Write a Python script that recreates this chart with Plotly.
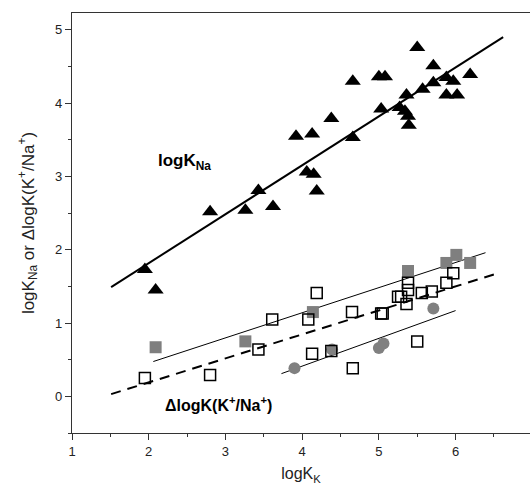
import plotly.graph_objects as go

# logK_Na (black triangles)
tri_x = [5.50, 5.71, 6.19, 5.00, 5.08, 4.66, 5.88, 5.97, 5.71, 5.57, 5.36, 5.88, 6.02,
         5.03, 5.27, 5.34, 5.38, 5.39, 4.38, 3.92, 4.13, 4.66, 4.06, 4.15, 4.19, 3.43,
         3.62, 3.26, 2.80, 1.95, 2.09]
tri_y = [4.76, 4.51, 4.39, 4.36, 4.36, 4.30, 4.35, 4.30, 4.28, 4.19, 4.11, 4.11, 4.11,
         3.92, 3.94, 3.89, 3.82, 3.70, 3.79, 3.55, 3.58, 3.53, 3.06, 3.03, 2.80, 2.81,
         2.59, 2.54, 2.52, 1.73, 1.45]

# Delta logK (open squares)
osq_x = [1.95, 2.80, 3.43, 3.61, 4.08, 4.13, 4.38, 4.66, 4.65, 5.03, 5.05, 5.50, 4.19,
         5.38, 5.38, 5.29, 5.36, 5.25, 5.56, 5.69, 5.88, 5.97]
osq_y = [0.25, 0.29, 0.64, 1.05, 1.05, 0.58, 0.62, 0.385, 1.15, 1.13, 1.13, 0.75, 1.41,
         1.55, 1.45, 1.36, 1.26, 1.36, 1.41, 1.43, 1.55, 1.68]

# gray filled squares
gsq_x = [2.09, 3.26, 4.14, 5.38, 5.88, 6.01, 6.19]
gsq_y = [0.67, 0.75, 1.15, 1.71, 1.82, 1.93, 1.82]

# gray circles
gci_x = [3.90, 4.39, 5.00, 5.06, 5.71]
gci_y = [0.385, 0.64, 0.66, 0.72, 1.20]

# fitted lines (end points)
fit_na_x = [1.51, 6.62]
fit_na_y = [1.49, 4.90]
fit_all_x = [1.51, 6.55]
fit_all_y = [0.03, 1.68]
fit_sq_x = [2.06, 6.39]
fit_sq_y = [0.475, 1.96]
fit_ci_x = [3.73, 6.00]
fit_ci_y = [0.31, 1.17]

fig = go.Figure()

fig.add_trace(go.Scatter(x=fit_na_x, y=fit_na_y, mode="lines",
                         line=dict(color="black", width=2)))
fig.add_trace(go.Scatter(x=fit_all_x, y=fit_all_y, mode="lines",
                         line=dict(color="black", width=2, dash="10px,7px")))
fig.add_trace(go.Scatter(x=fit_sq_x, y=fit_sq_y, mode="lines",
                         line=dict(color="black", width=1)))
fig.add_trace(go.Scatter(x=fit_ci_x, y=fit_ci_y, mode="lines",
                         line=dict(color="black", width=1)))

fig.add_trace(go.Scatter(x=gsq_x, y=gsq_y, mode="markers",
                         marker=dict(symbol="square", size=12, color="#7f7f7f",
                                     line=dict(width=0))))
fig.add_trace(go.Scatter(x=gci_x, y=gci_y, mode="markers",
                         marker=dict(symbol="circle", size=12, color="#808080",
                                     line=dict(width=0))))
fig.add_trace(go.Scatter(x=osq_x, y=osq_y, mode="markers",
                         marker=dict(symbol="square-open", size=11, color="black",
                                     line=dict(width=1.5, color="black"))))
fig.add_trace(go.Scatter(x=tri_x, y=tri_y, mode="markers",
                         marker=dict(symbol="triangle-up", size=14, color="black",
                                     line=dict(width=0))))

fig.add_annotation(x=2.10, y=3.20, xref="x", yref="y", xanchor="left", yanchor="middle",
                   text="<b>logK<sub>Na</sub></b>", showarrow=False,
                   font=dict(family="Arial", size=17, color="black"))
fig.add_annotation(x=2.18, y=-0.11, xref="x", yref="y", xanchor="left", yanchor="middle",
                   text="<b>ΔlogK(K<sup>+</sup>/Na<sup>+</sup>)</b>", showarrow=False,
                   font=dict(family="Arial", size=16, color="black"))

axis_common = dict(showline=True, linecolor="#333", linewidth=1.3, ticks="outside",
                   ticklen=6, tickwidth=1.3, tickcolor="#333", showgrid=False,
                   zeroline=False, tickfont=dict(family="Arial", size=13, color="#222"))

fig.update_xaxes(range=[1, 6.97], dtick=1, tick0=1, mirror=True,
                 minor=dict(ticks="outside", dtick=0.5, ticklen=3, tickcolor="#333"),
                 title=dict(text="logK<sub>K</sub>", standoff=10,
                            font=dict(family="Arial", size=16, color="#222")),
                 **axis_common)
fig.update_yaxes(range=[-0.5, 5.23], dtick=1, tick0=0, mirror=False,
                 minor=dict(ticks="outside", dtick=0.5, ticklen=3, tickcolor="#333"),
                 title=dict(text="logK<sub>Na</sub> or ΔlogK(K<sup>+</sup>/Na<sup>+</sup>)",
                            standoff=16, font=dict(family="Arial", size=17, color="#222")),
                 **axis_common)

fig.update_layout(width=530, height=492, margin=dict(l=72, r=0, t=13, b=59),
                  plot_bgcolor="white", paper_bgcolor="white", showlegend=False)

fig.write_html("out.html")
